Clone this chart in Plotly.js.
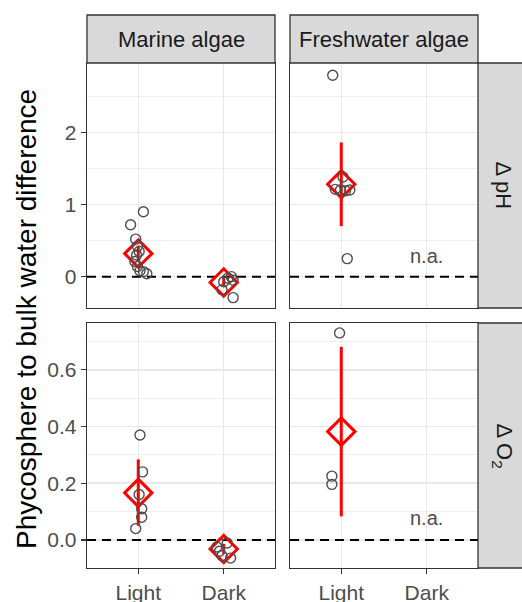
<!DOCTYPE html>
<html>
<head>
<meta charset="utf-8">
<script src="https://cdn.plot.ly/plotly-3.0.1.min.js"></script>
<style>html,body{margin:0;padding:0;background:#fff;}#chart{width:522px;height:602px;}</style>
</head>
<body>
<div id="chart"></div>
<script>
// ---------- data ----------
const categories = ['Light', 'Dark'];
const groups = ['Marine algae', 'Freshwater algae'];
const variables = ['\u0394 pH', '\u0394 O<sub>2</sub>'];

// individual measurements (phycosphere - bulk)
const marinePhLight = [0.90, 0.72, 0.52, 0.42, 0.35, 0.30, 0.21, 0.14, 0.08, 0.07, 0.04];
const marinePhDark = [0.00, -0.05, -0.02, -0.07, -0.18, -0.29];
const freshPhLight = [2.79, 1.38, 1.21, 1.20, 1.19, 1.20, 0.25];
const marineO2Light = [0.37, 0.24, 0.16, 0.11, 0.08, 0.04];
const marineO2Dark = [-0.025, -0.04, -0.011, -0.056, -0.064];
const freshO2Light = [0.73, 0.225, 0.196];

// jitter offsets (category units)
const marinePhLightJit = [0.06, -0.09, -0.03, -0.01, 0.01, -0.02, -0.04, -0.01, 0.02, 0.06, 0.10];
const marinePhDarkJit = [0.09, 0.11, 0.05, 0.00, -0.02, 0.11];
const freshPhLightJit = [-0.10, 0.02, -0.07, -0.01, 0.05, 0.10, 0.07];
const marineO2LightJit = [0.02, 0.05, 0.01, 0.04, 0.04, -0.03];
const marineO2DarkJit = [-0.08, -0.05, 0.04, -0.02, 0.08];
const freshO2LightJit = [-0.02, -0.11, -0.11];

// means and intervals
const marinePhMean = [0.32, -0.08], marinePhLo = [0.21, -0.14], marinePhHi = [0.43, -0.02];
const freshPhMean = [1.28], freshPhLo = [0.70], freshPhHi = [1.86];
const marineO2Mean = [0.166, -0.032], marineO2Lo = [0.05, -0.05], marineO2Hi = [0.284, -0.014];
const freshO2Mean = [0.382], freshO2Lo = [0.083], freshO2Hi = [0.681];

// reference level (no difference)
const refLevel = 0;

// ---------- helpers ----------
const W = 522, H = 602;
const px = v => v / W;
const py = v => 1 - v / H;
const FONT = 'Liberation Sans, Arial, sans-serif';
const xRange = [-0.6, 1.6];

function refTrace(xa, ya) {
  return {
    type: 'scatter', mode: 'lines', xaxis: xa, yaxis: ya, showlegend: false, hoverinfo: 'skip',
    x: xRange, y: [refLevel, refLevel], cliponaxis: true,
    line: {color: '#000', width: 2, dash: '9px,6px'}
  };
}
function pointsTrace(vals, jit, catIdx, xa, ya) {
  return {
    type: 'scatter', mode: 'markers', xaxis: xa, yaxis: ya, showlegend: false, hoverinfo: 'skip',
    x: vals.map((v, i) => catIdx + jit[i]), y: vals,
    marker: {symbol: 'circle-open', size: 10, color: '#4d4d4d', line: {width: 1.4, color: '#4d4d4d'}}
  };
}
function meanTrace(mean, lo, hi, xa, ya) {
  return {
    type: 'scatter', mode: 'markers', xaxis: xa, yaxis: ya, showlegend: false, hoverinfo: 'skip',
    x: mean.map((v, i) => i), y: mean,
    error_y: {type: 'data', symmetric: false, array: hi.map((h, i) => h - mean[i]),
      arrayminus: lo.map((l, i) => mean[i] - l), color: '#ff0000', thickness: 3, width: 0},
    marker: {symbol: 'diamond', size: 21, color: 'rgba(255,255,255,0)', line: {width: 3, color: '#ff0000'}}
  };
}

const traces = [
  refTrace('x', 'y'), refTrace('x2', 'y2'), refTrace('x3', 'y3'), refTrace('x4', 'y4'),
  meanTrace(marinePhMean, marinePhLo, marinePhHi, 'x', 'y'),
  pointsTrace(marinePhLight, marinePhLightJit, 0, 'x', 'y'),
  pointsTrace(marinePhDark, marinePhDarkJit, 1, 'x', 'y'),
  meanTrace(freshPhMean, freshPhLo, freshPhHi, 'x2', 'y2'),
  pointsTrace(freshPhLight, freshPhLightJit, 0, 'x2', 'y2'),
  meanTrace(marineO2Mean, marineO2Lo, marineO2Hi, 'x3', 'y3'),
  pointsTrace(marineO2Light, marineO2LightJit, 0, 'x3', 'y3'),
  pointsTrace(marineO2Dark, marineO2DarkJit, 1, 'x3', 'y3'),
  meanTrace(freshO2Mean, freshO2Lo, freshO2Hi, 'x4', 'y4'),
  pointsTrace(freshO2Light, freshO2LightJit, 0, 'x4', 'y4')
];

const xLeft = [px(87), px(275)], xRight = [px(290), px(478)];
const yTop = [py(308), py(63)], yBot = [py(568), py(323)];

function xAxis(domain, anchor, showLabels) {
  return {
    domain: domain, anchor: anchor, range: xRange,
    tickmode: 'array', tickvals: [0, 1], ticktext: categories,
    showticklabels: showLabels, ticks: showLabels ? 'outside' : '', ticklen: 5, tickwidth: 1.3, tickcolor: '#333',
    tickfont: {size: 21, color: '#4d4d4d', family: FONT},
    showgrid: true, gridcolor: '#e8e8e8', gridwidth: 1.5, zeroline: false,
    showline: true, mirror: true, linecolor: '#333', linewidth: 1.3, fixedrange: true
  };
}
function yAxis(domain, anchor, range, dtick, showLabels, fmt) {
  return {
    domain: domain, anchor: anchor, range: range, dtick: dtick, tick0: 0, tickformat: fmt,
    showticklabels: showLabels, ticks: showLabels ? 'outside' : '', ticklen: 5, tickwidth: 1.3, tickcolor: '#333',
    tickfont: {size: 21, color: '#4d4d4d', family: FONT},
    showgrid: true, gridcolor: '#e8e8e8', gridwidth: 1.5, zeroline: false,
    minor: {dtick: dtick / 2, tick0: 0, showgrid: true, gridcolor: '#ededed', gridwidth: 0.9, ticks: ''},
    showline: true, mirror: true, linecolor: '#333', linewidth: 1.3, fixedrange: true
  };
}

const phRange = [-0.434, 2.96], o2Range = [-0.099, 0.765];

function stripRect(x0, x1, y0, y1) {
  return {type: 'rect', xref: 'paper', yref: 'paper', x0: px(x0), x1: px(x1), y0: py(y1), y1: py(y0),
    fillcolor: '#d9d9d9', line: {color: '#333', width: 1.3}, layer: 'above'};
}

const layout = {
  width: W, height: H, margin: {l: 0, r: 0, t: 0, b: 0},
  paper_bgcolor: '#fff', plot_bgcolor: '#fff',
  font: {family: FONT, color: '#1a1a1a'},
  xaxis: xAxis(xLeft, 'y', false),
  yaxis: yAxis(yTop, 'x', phRange, 1, true, 'd'),
  xaxis2: xAxis(xRight, 'y2', false),
  yaxis2: yAxis(yTop, 'x2', phRange, 1, false, 'd'),
  xaxis3: xAxis(xLeft, 'y3', true),
  yaxis3: yAxis(yBot, 'x3', o2Range, 0.2, true, '.1f'),
  xaxis4: xAxis(xRight, 'y4', true),
  yaxis4: yAxis(yBot, 'x4', o2Range, 0.2, false, '.1f'),
  shapes: [
    stripRect(87, 275, 15, 63), stripRect(290, 478, 15, 63),
    stripRect(478, 540, 63, 308), stripRect(478, 540, 323, 568)
  ],
  annotations: [
    {text: groups[0], xref: 'paper', yref: 'paper', x: px(181), y: py(39), showarrow: false,
      font: {size: 22, color: '#1a1a1a'}, xanchor: 'center', yanchor: 'middle'},
    {text: groups[1], xref: 'paper', yref: 'paper', x: px(384), y: py(39), showarrow: false,
      font: {size: 22, color: '#1a1a1a'}, xanchor: 'center', yanchor: 'middle'},
    {text: variables[0], xref: 'paper', yref: 'paper', x: px(503), y: py(185.5), showarrow: false,
      textangle: 90, font: {size: 22, color: '#1a1a1a'}, xanchor: 'center', yanchor: 'middle'},
    {text: variables[1], xref: 'paper', yref: 'paper', x: px(503), y: py(445.5), showarrow: false,
      textangle: 90, font: {size: 22, color: '#1a1a1a'}, xanchor: 'center', yanchor: 'middle'},
    {text: 'Phycosphere to bulk water difference', xref: 'paper', yref: 'paper', x: px(26), y: py(319),
      showarrow: false, textangle: -90, font: {size: 28, color: '#000'}, xanchor: 'center', yanchor: 'middle'},
    {text: 'n.a.', xref: 'x2', yref: 'y2', x: 1, y: 0.28, showarrow: false,
      font: {size: 20, color: '#4d4d4d'}},
    {text: 'n.a.', xref: 'x4', yref: 'y4', x: 1, y: 0.078, showarrow: false,
      font: {size: 20, color: '#4d4d4d'}}
  ]
};

Plotly.newPlot('chart', traces, layout, {staticPlot: true, displayModeBar: false});
</script>
</body>
</html>
